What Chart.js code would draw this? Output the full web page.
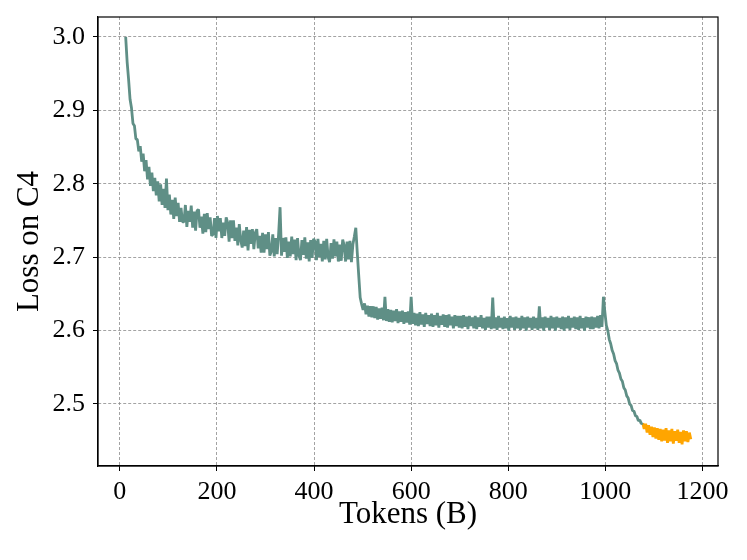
<!DOCTYPE html>
<html>
<head>
<meta charset="utf-8">
<script src="https://cdn.jsdelivr.net/npm/chart.js@4.4.0/dist/chart.umd.min.js"></script>
<style>
  html, body { margin: 0; padding: 0; background: #fff; }
  #wrap { width: 747px; height: 560px; }
</style>
</head>
<body>
<div id="wrap"><canvas id="loss-chart" width="747" height="560"></canvas></div>
<script>
// main run: tokens seen (B) and loss on C4
const tokens = [
  12, 15, 18, 21, 24, 27, 30, 33, 36, 39,
  42, 45, 48, 51, 54, 57, 60, 63, 66, 69,
  72, 75, 78, 81, 84, 87, 90, 93, 96, 99,
  102, 105, 108, 111, 114, 117, 120, 123, 126, 129,
  132, 135, 138, 141, 144, 147, 150, 153, 156, 159,
  162, 165, 168, 171, 174, 177, 180, 183, 186, 189,
  192, 195, 198, 201, 204, 207, 210, 213, 216, 219,
  222, 225, 228, 231, 234, 237, 240, 243, 246, 249,
  252, 255, 258, 261, 264, 267, 270, 273, 276, 279,
  282, 285, 288, 291, 294, 297, 300, 303, 306, 309,
  312, 315, 318, 321, 324, 327, 330, 333, 336, 339,
  342, 345, 348, 351, 354, 357, 360, 363, 366, 369,
  372, 375, 378, 381, 384, 387, 390, 393, 396, 399,
  402, 405, 408, 411, 414, 417, 420, 423, 426, 429,
  432, 435, 438, 441, 444, 447, 450, 453, 456, 459,
  462, 465, 468, 471, 474, 477, 480, 483, 486, 489,
  492, 495, 498, 501, 504, 507, 510, 513, 516, 519,
  522, 525, 528, 531, 534, 537, 540, 543, 546, 549,
  552, 555, 558, 561, 564, 567, 570, 573, 576, 579,
  582, 585, 588, 591, 594, 597, 600, 603, 606, 609,
  612, 615, 618, 621, 624, 627, 630, 633, 636, 639,
  642, 645, 648, 651, 654, 657, 660, 663, 666, 669,
  672, 675, 678, 681, 684, 687, 690, 693, 696, 699,
  702, 705, 708, 711, 714, 717, 720, 723, 726, 729,
  732, 735, 738, 741, 744, 747, 750, 753, 756, 759,
  762, 765, 768, 771, 774, 777, 780, 783, 786, 789,
  792, 795, 798, 801, 804, 807, 810, 813, 816, 819,
  822, 825, 828, 831, 834, 837, 840, 843, 846, 849,
  852, 855, 858, 861, 864, 867, 870, 873, 876, 879,
  882, 885, 888, 891, 894, 897, 900, 903, 906, 909,
  912, 915, 918, 921, 924, 927, 930, 933, 936, 939,
  942, 945, 948, 951, 954, 957, 960, 963, 966, 969,
  972, 975, 978, 981, 984, 987, 990, 993, 996, 999,
  1002, 1005, 1008, 1011, 1014, 1017, 1020, 1023, 1026, 1029,
  1032, 1035, 1038, 1041, 1044, 1047, 1050, 1053, 1056, 1059,
  1062, 1065, 1068, 1071, 1074, 1077
];
const loss = [
  3.000, 2.966, 2.942, 2.915, 2.903, 2.882, 2.879, 2.861, 2.860, 2.844,
  2.851, 2.830, 2.841, 2.817, 2.832, 2.806, 2.823, 2.797, 2.815, 2.790,
  2.808, 2.784, 2.803, 2.776, 2.799, 2.771, 2.793, 2.767, 2.807, 2.764,
  2.785, 2.758, 2.778, 2.752, 2.781, 2.756, 2.774, 2.748, 2.767, 2.748,
  2.748, 2.771, 2.741, 2.763, 2.748, 2.770, 2.740, 2.762, 2.736, 2.763,
  2.765, 2.740, 2.755, 2.732, 2.759, 2.734, 2.760, 2.738, 2.754, 2.729,
  2.731, 2.753, 2.726, 2.756, 2.735, 2.753, 2.726, 2.747, 2.729, 2.754,
  2.747, 2.721, 2.750, 2.726, 2.750, 2.722, 2.740, 2.716, 2.745, 2.723,
  2.713, 2.736, 2.715, 2.741, 2.709, 2.737, 2.718, 2.738, 2.711, 2.733,
  2.738, 2.712, 2.729, 2.706, 2.733, 2.706, 2.731, 2.711, 2.734, 2.702,
  2.708, 2.731, 2.701, 2.726, 2.704, 2.731, 2.768, 2.702, 2.726, 2.707,
  2.727, 2.699, 2.721, 2.701, 2.728, 2.704, 2.724, 2.696, 2.726, 2.702,
  2.696, 2.723, 2.703, 2.727, 2.698, 2.720, 2.694, 2.723, 2.699, 2.725,
  2.721, 2.696, 2.725, 2.700, 2.718, 2.694, 2.722, 2.697, 2.725, 2.700,
  2.693, 2.719, 2.698, 2.724, 2.701, 2.721, 2.694, 2.717, 2.695, 2.724,
  2.716, 2.694, 2.721, 2.697, 2.722, 2.693, 2.717, 2.728, 2.740, 2.706,
  2.675, 2.645, 2.636, 2.628, 2.637, 2.622, 2.634, 2.619, 2.633, 2.618,
  2.633, 2.617, 2.632, 2.615, 2.630, 2.616, 2.631, 2.614, 2.646, 2.613,
  2.629, 2.612, 2.628, 2.611, 2.627, 2.613, 2.629, 2.610, 2.626, 2.612,
  2.627, 2.609, 2.625, 2.611, 2.626, 2.608, 2.646, 2.609, 2.624, 2.607,
  2.623, 2.606, 2.625, 2.608, 2.622, 2.605, 2.624, 2.609, 2.621, 2.606,
  2.623, 2.605, 2.621, 2.607, 2.624, 2.604, 2.620, 2.608, 2.622, 2.605,
  2.621, 2.604, 2.622, 2.607, 2.619, 2.603, 2.621, 2.606, 2.620, 2.604,
  2.620, 2.603, 2.621, 2.605, 2.619, 2.602, 2.620, 2.606, 2.618, 2.603,
  2.620, 2.602, 2.618, 2.605, 2.621, 2.603, 2.617, 2.601, 2.619, 2.604,
  2.619, 2.602, 2.645, 2.603, 2.618, 2.601, 2.620, 2.604, 2.617, 2.602,
  2.619, 2.603, 2.617, 2.600, 2.620, 2.604, 2.618, 2.601, 2.619, 2.603,
  2.617, 2.601, 2.620, 2.603, 2.618, 2.600, 2.619, 2.604, 2.617, 2.601,
  2.619, 2.603, 2.617, 2.601, 2.633, 2.603, 2.618, 2.600, 2.619, 2.604,
  2.617, 2.601, 2.620, 2.603, 2.618, 2.600, 2.619, 2.604, 2.617, 2.602,
  2.619, 2.600, 2.618, 2.603, 2.620, 2.601, 2.617, 2.604, 2.619, 2.602,
  2.618, 2.601, 2.620, 2.603, 2.617, 2.600, 2.619, 2.604, 2.618, 2.602,
  2.619, 2.602, 2.618, 2.604, 2.620, 2.603, 2.621, 2.605, 2.646, 2.625,
  2.607, 2.600, 2.588, 2.582, 2.573, 2.568, 2.559, 2.555, 2.546, 2.542,
  2.534, 2.531, 2.522, 2.519, 2.511, 2.508, 2.500, 2.498, 2.491, 2.490,
  2.484, 2.483, 2.477, 2.478, 2.473, 2.474
];

// final stretch, drawn in orange
const tailTokens = [
  1077, 1080, 1083, 1086, 1089, 1092, 1095, 1098, 1101, 1104,
  1107, 1110, 1113, 1116, 1119, 1122, 1125, 1128, 1131, 1134,
  1137, 1140, 1143, 1146, 1149, 1152, 1155, 1158, 1161, 1164,
  1167, 1170, 1173, 1176
];
const tailLoss = [
  2.474, 2.466, 2.473, 2.461, 2.471, 2.458, 2.469, 2.455, 2.468, 2.453,
  2.467, 2.451, 2.466, 2.449, 2.465, 2.450, 2.467, 2.447, 2.464, 2.449,
  2.466, 2.446, 2.463, 2.450, 2.465, 2.447, 2.462, 2.445, 2.464, 2.449,
  2.463, 2.448, 2.461, 2.452
];

const xTicks = [0, 200, 400, 600, 800, 1000, 1200];
const yTicks = [2.5, 2.6, 2.7, 2.8, 2.9, 3.0];

const serif = '"Liberation Serif", "DejaVu Serif", serif';

// closed box round the plot area
const frame = {
    id: 'frame',
    afterDraw(chart) {
        const { ctx, chartArea: a } = chart;
        ctx.save();
        ctx.strokeStyle = '#000';
        ctx.lineWidth = 1.2;
        ctx.strokeRect(a.left, a.top, a.right - a.left, a.bottom - a.top);
        ctx.restore();
    }
};

const gridOpts = {
    color: '#8c8c8c',
    lineWidth: 0.8,
    tickColor: '#000',
    tickLength: 5,
    tickWidth: 1,
    tickBorderDash: []
};

new Chart(document.getElementById('loss-chart'), {
    type: 'line',
    data: {
        datasets: [
            {
                data: tokens.map((t, i) => ({ x: t, y: loss[i] })),
                borderColor: '#5f8f86',
                borderWidth: 2.8,
                borderJoinStyle: 'bevel',
                pointRadius: 0,
                tension: 0
            },
            {
                data: tailTokens.map((t, i) => ({ x: t, y: tailLoss[i] })),
                borderColor: '#ffa500',
                borderWidth: 2.8,
                borderJoinStyle: 'bevel',
                pointRadius: 0,
                tension: 0
            }
        ]
    },
    options: {
        responsive: false,
        animation: false,
        layout: { padding: { top: 17, right: 29, left: 0, bottom: 0 } },
        plugins: {
            legend: { display: false },
            tooltip: { enabled: false }
        },
        scales: {
            x: {
                type: 'linear',
                min: -45,
                max: 1232,
                afterBuildTicks: scale => { scale.ticks = xTicks.map(v => ({ value: v })); },
                afterFit: scale => {
                    scale.height = 94;
                    scale.paddingLeft = 0;
                    scale.paddingRight = 0;
                },
                grid: gridOpts,
                border: { color: '#000', width: 1.2, dash: [3, 2] },
                ticks: {
                    color: '#000',
                    padding: 6,
                    maxRotation: 0,
                    font: { family: serif, size: 26 },
                    callback: v => String(v)
                },
                title: {
                    display: true,
                    text: 'Tokens (B)',
                    color: '#000',
                    font: { family: serif, size: 31 },
                    padding: { top: 0, bottom: 27 }
                }
            },
            y: {
                type: 'linear',
                min: 2.4155,
                max: 3.027,
                afterBuildTicks: scale => { scale.ticks = yTicks.map(v => ({ value: v })); },
                afterFit: scale => {
                    scale.width = 98;
                    scale.paddingTop = 0;
                    scale.paddingBottom = 0;
                },
                grid: gridOpts,
                border: { color: '#000', width: 1.2, dash: [3, 2] },
                ticks: {
                    color: '#000',
                    padding: 8,
                    font: { family: serif, size: 26 },
                    callback: v => Number(v).toFixed(1)
                },
                title: {
                    display: true,
                    text: 'Loss on C4',
                    color: '#000',
                    font: { family: serif, size: 31 },
                    padding: { top: 11, bottom: 0 }
                }
            }
        }
    },
    plugins: [frame]
});
</script>
</body>
</html>
